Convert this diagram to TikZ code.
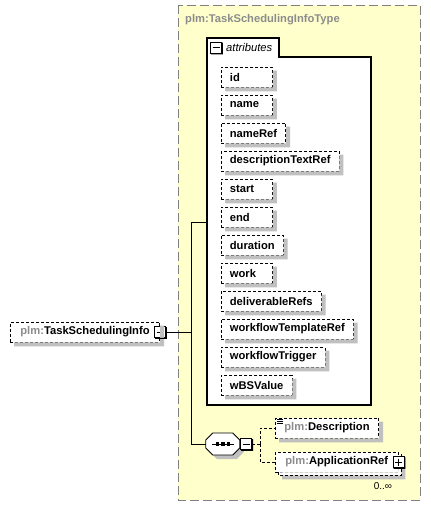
\documentclass[tikz,border=0pt]{standalone}
\usepackage{fontspec}
\setmainfont{Liberation Sans}
\usepackage{tikz}
\usetikzlibrary{positioning,calc}
\definecolor{typefill}{RGB}{255, 255, 204}
\definecolor{typeedge}{RGB}{128, 128, 128}
\definecolor{shadowgray}{RGB}{192, 192, 192}
\definecolor{plmgray}{RGB}{140, 140, 140}

\tikzset{
  attrbox/.style={draw, dash pattern=on 3pt off 2pt, line width=0.8pt, fill=white,
    anchor=west, minimum height=20pt, inner xsep=8.5pt, inner ysep=0pt,
    font=\fontsize{11.2}{13}\selectfont\bfseries},
  elbox/.style={attrbox, inner xsep=10pt},
  iconbox/.style={draw, fill=white, line width=0.8pt, minimum size=11pt, inner sep=0pt},
  minusbox/.style={iconbox, path picture={
    \draw[line width=0.9pt] ([xshift=2pt]path picture bounding box.west) -- ([xshift=-2pt]path picture bounding box.east);}},
  plusbox/.style={iconbox, path picture={
    \draw[line width=0.9pt] ([xshift=2pt]path picture bounding box.west) -- ([xshift=-2pt]path picture bounding box.east);
    \draw[line width=0.9pt] ([yshift=-2pt]path picture bounding box.north) -- ([yshift=2pt]path picture bounding box.south);}},
  conn/.style={line width=1pt},
  seqline/.style={line width=0.8pt, dash pattern=on 3pt off 2pt}
}

\newcommand{\plm}{\textcolor{plmgray}{plm:}}
% L-shaped shadow to the lower right of a node
\newcommand{\boxshadow}[3]{%
  \fill[#3] ([xshift=#2,yshift=-#2]#1.south west) -| ([xshift=#2,yshift=-#2]#1.north east)
    -- ([yshift=-#2]#1.north east) |- ([xshift=#2]#1.south west) -- cycle;}

\begin{document}
\begin{tikzpicture}[x=1pt, y=-1pt]
  \useasboundingbox (0,0) rectangle (431,509);

  % complex type frame
  \draw[fill=typefill, draw=typeedge, line width=1pt, dash pattern=on 9pt off 4pt] (178,5) rectangle (420,500);
  \node[anchor=west, inner sep=0pt, text=plmgray, font=\fontsize{11.2}{13}\selectfont\bfseries] (typeTitle) at (185,20) {plm:TaskSchedulingInfoType};

  % attribute group
  \draw[fill=white, line width=1.2pt] (207,405) -- (207,38) -- (279,38) -- (279,57) -- (371,57) -- (371,405) -- cycle;
  \node[minusbox] (attrMinus) at (216,47.5) {};
  \node[anchor=west, inner xsep=2pt, font=\fontsize{11.2}{13}\selectfont\itshape] (attrTitle) at (224,47.5) {attributes};
  \coordinate (attrsIn) at (207,222);

  \node[attrbox, text width=34pt] (attrId) at (221,77) {id};
  \node[attrbox, text width=34pt] (attrName) at (221,105) {name};
  \node[attrbox] (attrNameRef) at (221,133) {nameRef};
  \node[attrbox] (attrDescText) at (221,161) {descriptionTextRef};
  \node[attrbox, text width=34pt] (attrStart) at (221,189) {start};
  \node[attrbox, text width=34pt] (attrEnd) at (221,217) {end};
  \node[attrbox] (attrDuration) at (221,245) {duration};
  \node[attrbox, text width=34pt] (attrWork) at (221,273) {work};
  \node[attrbox] (attrDeliv) at (221,301) {deliverableRefs};
  \node[attrbox] (attrTemplate) at (221,329) {workflowTemplateRef};
  \node[attrbox] (attrTrigger) at (221,357) {workflowTrigger};
  \node[attrbox] (attrWbs) at (221,385) {wBSValue};

  % root element
  \node[elbox] (mainEl) at (10,332) {\plm TaskSchedulingInfo};
  \node[minusbox] (mainMinus) at (mainEl.east) {};
  \coordinate (trunkTop) at (191,222);

  % sequence compositor
  \node[minimum width=34pt, minimum height=22pt, inner sep=0pt] (seq) at (223,444) {};
  \fill[shadowgray] ([xshift=4pt,yshift=-4pt]seq.west) -- ++(0,-4) -- ++(7,-7) -- ++(20,0) -- ++(7,7) -- ++(0,8) -- ++(-7,7) -- ++(-20,0) -- ++(-7,-7) -- cycle;
  \draw[fill=white, line width=0.8pt] (seq.west) -- ++(0,-4) -- ++(7,-7) -- ++(20,0) -- ++(7,7) -- ++(0,8) -- ++(-7,7) -- ++(-20,0) -- ++(-7,-7) -- cycle;
  \draw[line width=0.8pt] ([xshift=-11pt]seq.center) -- ([xshift=11pt]seq.center);
  \foreach \dx in {-5.5,0,5.5}
    \fill ([xshift=\dx pt]seq.center) +(-1.6,-1.6) rectangle +(1.6,1.6);
  \node[minusbox, anchor=west] (seqMinus) at (seq.east) {};
  \coordinate (seqFork) at (260,444);

  % child elements
  \node[elbox, inner xsep=9pt] (descEl) at (275,428) {\plm Description};
  \foreach \dy in {0,2,4}
    \draw[line width=0.6pt] ([xshift=2pt,yshift=-2pt-\dy pt]descEl.north west) -- ++(6,0);
  \node[elbox] (appRef) at (275,462) {\plm ApplicationRef};
  \node[inner sep=0pt, font=\fontsize{10}{12}\selectfont] (appOcc) at (383,486) {0..∞};

  % shadows
  \foreach \n in {attrId,attrName,attrNameRef,attrDescText,attrStart,attrEnd,attrDuration,attrWork,attrDeliv,attrTemplate,attrTrigger,attrWbs,mainEl,descEl}
    {\boxshadow{\n}{4pt}{shadowgray}}
  % repeated element: second box behind
  \boxshadow{appRef}{7pt}{shadowgray}
  \boxshadow{appRef}{3pt}{white}
  \draw[seqline] ([xshift=3pt]appRef.south west) -- ([xshift=3pt,yshift=-3pt]appRef.south west)
    -| ([xshift=3pt,yshift=-3pt]appRef.north east) -- ([yshift=-3pt]appRef.north east);
  \node[plusbox] (appPlus) at (appRef.east) {};
  \foreach \n in {attrMinus,mainMinus,seqMinus,appPlus}
    {\boxshadow{\n}{1pt}{black}}

  % connectors
  \draw[conn] (mainMinus.east) -- (mainMinus.east -| trunkTop);
  \draw[conn] (attrsIn) -- (trunkTop) |- (seq.west);
  \draw[seqline] (seqMinus.east) -- (seqFork);
  \draw[seqline] (seqFork) |- (descEl.west);
  \draw[seqline] (seqFork) |- (appRef.west);
\end{tikzpicture}
\end{document}
